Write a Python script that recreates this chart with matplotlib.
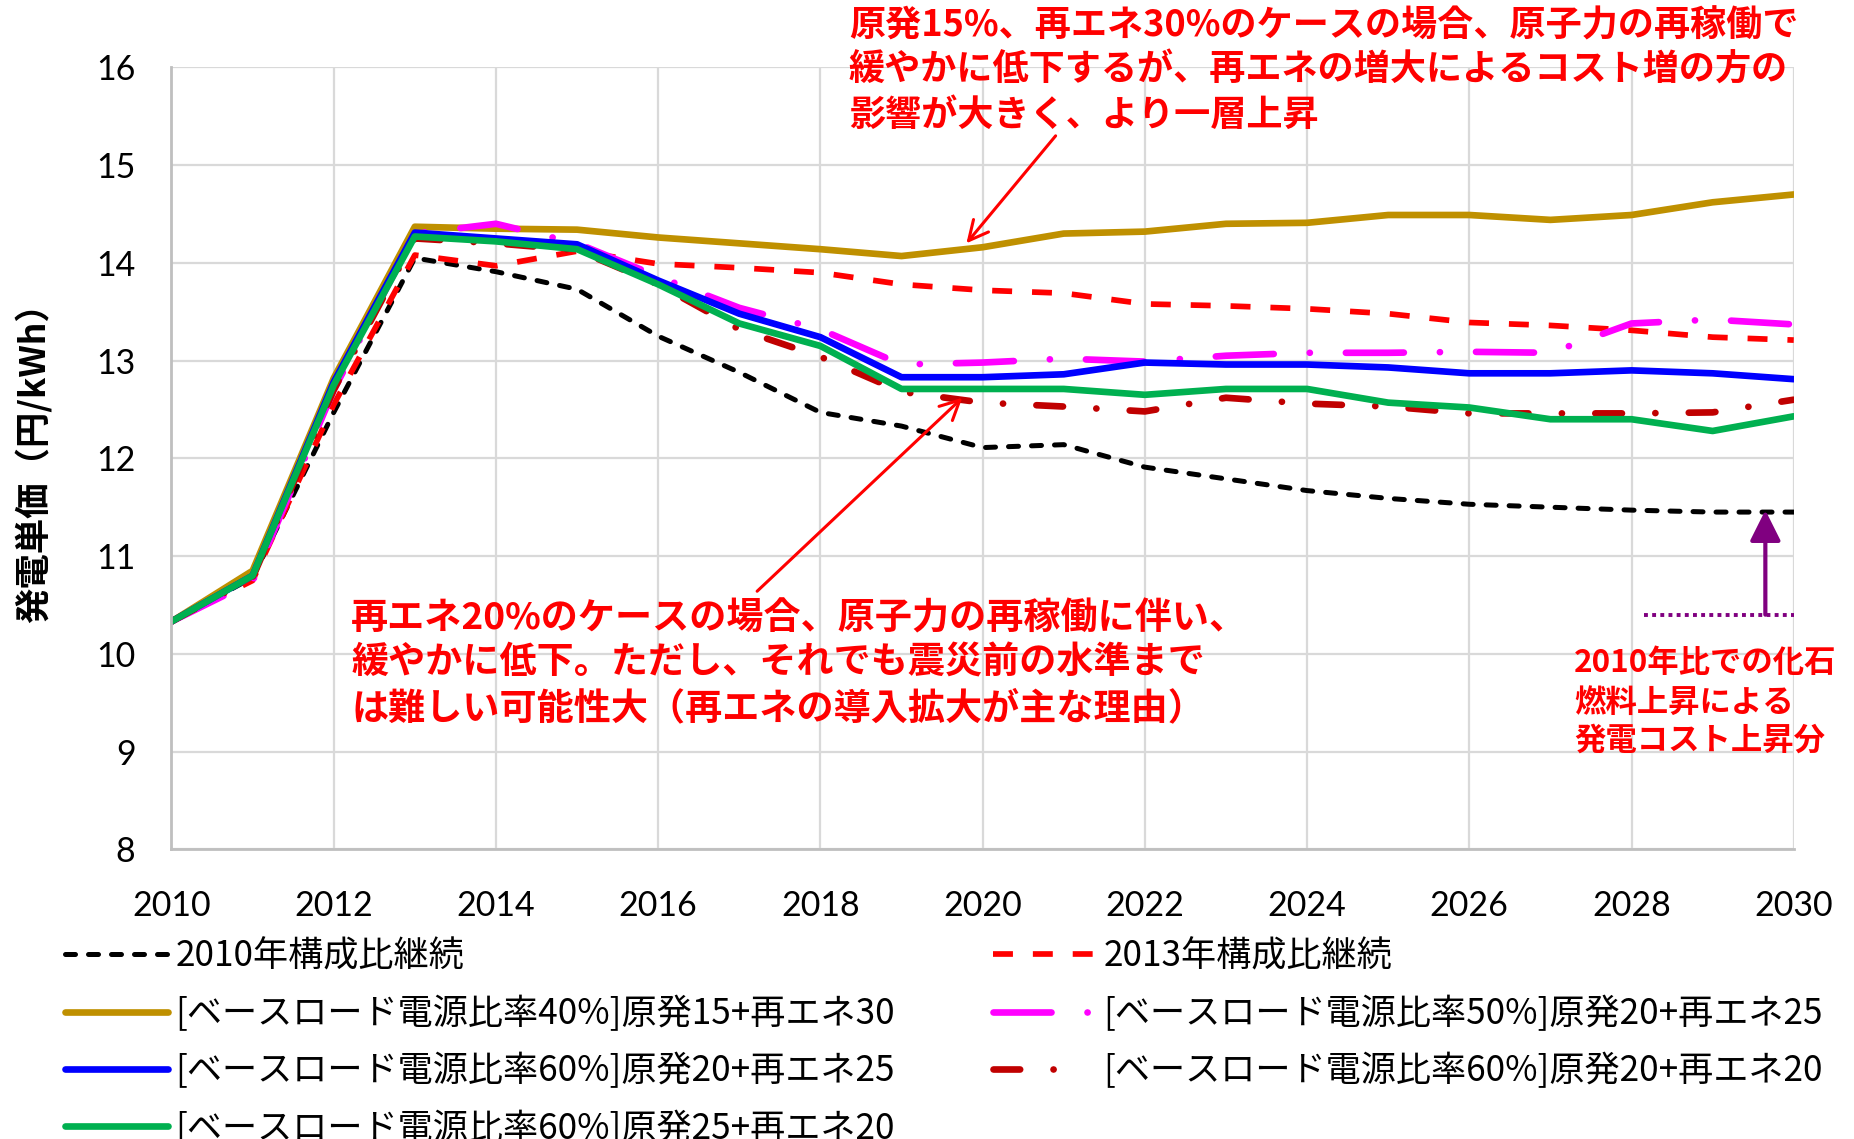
import matplotlib
matplotlib.use('Agg')
import matplotlib.pyplot as plt
from matplotlib.lines import Line2D

plt.rcParams['font.family'] = ['Noto Sans CJK JP', 'DejaVu Sans']

# ---------------- data ----------------
years = list(range(2010, 2031))
s2010 = [10.33, 10.78, 12.47, 14.05, 13.91, 13.73, 13.25, 12.88, 12.47, 12.33, 12.11,
         12.14, 11.91, 11.79, 11.67, 11.59, 11.53, 11.50, 11.47, 11.45, 11.45]
s2013 = [10.33, 10.75, 12.55, 14.08, 13.97, 14.12, 13.99, 13.95, 13.90, 13.78, 13.72,
         13.69, 13.58, 13.56, 13.53, 13.48, 13.39, 13.36, 13.31, 13.24, 13.21]
s40_15_30 = [10.33, 10.85, 12.82, 14.37, 14.35, 14.34, 14.26, 14.20, 14.14, 14.07, 14.16,
             14.30, 14.32, 14.40, 14.41, 14.49, 14.49, 14.44, 14.49, 14.62, 14.70]
s50_20_25 = [10.33, 10.74, 12.70, 14.30, 14.40, 14.20, 13.86, 13.54, 13.32, 12.96, 12.98,
             13.02, 12.99, 13.05, 13.08, 13.08, 13.09, 13.08, 13.38, 13.42, 13.37]
s60_20_25 = [10.33, 10.80, 12.78, 14.31, 14.25, 14.19, 13.82, 13.48, 13.24, 12.83, 12.83,
             12.86, 12.98, 12.96, 12.96, 12.93, 12.87, 12.87, 12.90, 12.87, 12.81]
s60_20_20 = [10.33, 10.78, 12.70, 14.25, 14.20, 14.13, 13.78, 13.32, 13.04, 12.68, 12.57,
             12.53, 12.48, 12.62, 12.56, 12.53, 12.46, 12.46, 12.46, 12.47, 12.60]
s60_25_20 = [10.33, 10.80, 12.75, 14.27, 14.22, 14.14, 13.78, 13.38, 13.15, 12.71, 12.71,
             12.71, 12.65, 12.71, 12.71, 12.57, 12.52, 12.40, 12.40, 12.28, 12.43]

labels = ['2010年構成比継続',
          '2013年構成比継続',
          '[ベースロード電源比率40%]原発15+再エネ30',
          '[ベースロード電源比率50%]原発20+再エネ25',
          '[ベースロード電源比率60%]原発20+再エネ25',
          '[ベースロード電源比率60%]原発20+再エネ20',
          '[ベースロード電源比率60%]原発25+再エネ20']

xticks = list(range(2010, 2031, 2))
yticks = list(range(8, 17))
ylabel = '発電単価（円/kWh）'

note1 = ['原発15%、再エネ30%のケースの場合、原子力の再稼働で',
         '緩やかに低下するが、再エネの増大によるコスト増の方の',
         '影響が大きく、より一層上昇']
note2 = ['再エネ20%のケースの場合、原子力の再稼働に伴い、',
         '緩やかに低下。ただし、それでも震災前の水準まで',
         'は難しい可能性大（再エネの導入拡大が主な理由）']
note3 = ['2010年比での化石', '燃料上昇による', '発電コスト上昇分']

# ---------------- figure ----------------
fig = plt.figure(figsize=(18.54, 11.39), dpi=100)
ax = fig.add_axes([0.0925, 0.2544, 0.875, 0.6864])

styles = [
    # values, color, lw, dashes, cap
    (s2010, '#000000', 3.6, (2.0, 2.6), 'round'),
    (s2013, '#FF0000', 4.1, (3.5, 3.5), 'butt'),
    (s40_15_30, '#BF9000', 4.8, None, 'round'),
    (s50_20_25, '#FF00FF', 4.8, (8.7, 5.4, 0.02, 5.4), 'round'),
    (s60_20_25, '#0000FF', 4.8, None, 'round'),
    (s60_20_20, '#C00000', 4.8, (4.0, 5.0, 0.02, 5.0), 'round'),
    (s60_25_20, '#00B050', 4.8, None, 'round'),
]

handles = []
for (vals, col, lw, dashes, cap), lab in zip(styles, labels):
    if dashes is None:
        ln, = ax.plot(years, vals, color=col, lw=lw, solid_capstyle='round',
                      solid_joinstyle='round', label=lab)
    else:
        ln, = ax.plot(years, vals, color=col, lw=lw, dashes=dashes,
                      dash_capstyle=cap, dash_joinstyle='round', label=lab)
    handles.append(ln)

# legend proxy for the dark red dash-dot key (dash + dot only, as in the original key)
darkred_key = Line2D([], [], color='#C00000', lw=4.8, dashes=(4.0, 5.0, 0.02, 9.0),
                     dash_capstyle='round', label=labels[5])

ax.set_xlim(2010, 2030)
ax.set_ylim(8, 16)
ax.set_xticks(xticks)
ax.set_yticks(yticks)
ax.tick_params(length=0, labelsize=24.5)
ax.tick_params(axis='x', pad=29)
ax.tick_params(axis='y', pad=26)
for lbl in ax.get_xticklabels() + ax.get_yticklabels():
    lbl.set_fontfamily('Lato')
ax.grid(True, color='#d9d9d9', lw=1.6)
ax.set_axisbelow(True)
for s in ['top', 'right']:
    ax.spines[s].set_visible(False)
for s in ['left', 'bottom']:
    ax.spines[s].set_color('#bfbfbf')
    ax.spines[s].set_linewidth(2)

fig.text(33 / 1854, 0.601, ylabel, rotation=90, ha='center', va='center',
         fontsize=25.5, fontweight='bold')

# ---------------- annotations ----------------
ax.annotate('', xy=(2019.8, 14.2), xytext=(2020.9, 15.3), annotation_clip=False,
            arrowprops=dict(arrowstyle='->', color='#FF0000', lw=2.2,
                            mutation_scale=35, shrinkA=0, shrinkB=0))
ax.annotate('', xy=(2019.75, 12.62), xytext=(2017.22, 10.64), annotation_clip=False,
            arrowprops=dict(arrowstyle='->', color='#FF0000', lw=2.2,
                            mutation_scale=35, shrinkA=0, shrinkB=0))
ax.plot([2028.15, 2030], [10.4, 10.4], color='#800080', lw=2.8,
        dashes=(1.0, 1.1), dash_capstyle='butt', clip_on=False)
ax.annotate('', xy=(2029.65, 11.47), xytext=(2029.65, 10.4),
            arrowprops=dict(arrowstyle='-|>,head_length=0.4,head_width=0.2',
                            color='#800080', lw=3, mutation_scale=47,
                            shrinkA=0, shrinkB=0))

for txt, y in zip(note1, [0.9770, 0.9386, 0.8991]):
    fig.text(0.4579, y, txt, color='#FF0000', fontsize=26, fontweight='bold',
             ha='left', va='center')
for txt, y in zip(note2, [0.4569, 0.4175, 0.3780]):
    fig.text(0.1894, y, txt, color='#FF0000', fontsize=26.7, fontweight='bold',
             ha='left', va='center')
for txt, y in zip(note3, [0.4175, 0.3832, 0.3500]):
    fig.text(0.8489, y, txt, color='#FF0000', fontsize=22.6, fontweight='bold',
             ha='left', va='center')

# ---------------- legend ----------------
col1 = [handles[0], handles[2], handles[4], handles[6]]
col2 = [handles[1], handles[3], darkred_key]
legkw = dict(frameon=False, fontsize=25.3, handlelength=2.94, handletextpad=0.2,
             borderpad=0, borderaxespad=0, labelspacing=0.6, loc='upper left')
fig.legend(col1, [h.get_label() for h in col1], bbox_to_anchor=(0.0351, 0.176), **legkw)
fig.legend(col2, [h.get_label() for h in col2], bbox_to_anchor=(0.5357, 0.176), **legkw)

fig.savefig('out.png', dpi=100)
